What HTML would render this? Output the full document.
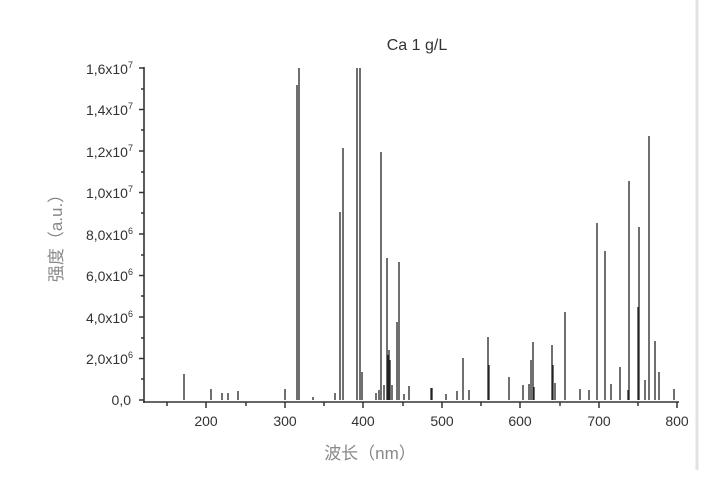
<!DOCTYPE html>
<html><head><meta charset="utf-8"><style>
html,body{margin:0;padding:0;background:#fff;width:728px;height:481px;overflow:hidden}
svg{display:block}
text{font-family:"Liberation Sans","Noto Sans CJK SC",sans-serif}
</style></head><body>
<svg width="728" height="481" viewBox="0 0 728 481">
<rect width="728" height="481" fill="#fff"/>
<line x1="697" y1="0" x2="697" y2="470" stroke="#e2e2e2" stroke-width="3"/>
<text x="417" y="50" font-size="16" fill="#333" text-anchor="middle">Ca 1 g/L</text>
<g stroke="#333" stroke-width="1.6" fill="none">
<line x1="144" y1="67" x2="144" y2="403"/>
<line x1="143" y1="402" x2="679" y2="402"/>
</g>
<g stroke="#333" stroke-width="1.5">
<line x1="139" y1="68" x2="144" y2="68"/><line x1="139" y1="109.5" x2="144" y2="109.5"/>
<line x1="139" y1="151" x2="144" y2="151"/><line x1="139" y1="192.5" x2="144" y2="192.5"/>
<line x1="139" y1="234" x2="144" y2="234"/><line x1="139" y1="275.5" x2="144" y2="275.5"/>
<line x1="139" y1="317" x2="144" y2="317"/><line x1="139" y1="358.5" x2="144" y2="358.5"/>
<line x1="139" y1="400" x2="144" y2="400"/>
<line x1="141" y1="89" x2="144" y2="89"/><line x1="141" y1="130" x2="144" y2="130"/>
<line x1="141" y1="172" x2="144" y2="172"/><line x1="141" y1="213" x2="144" y2="213"/>
<line x1="141" y1="255" x2="144" y2="255"/><line x1="141" y1="296" x2="144" y2="296"/>
<line x1="141" y1="338" x2="144" y2="338"/><line x1="141" y1="379" x2="144" y2="379"/>
<line x1="206" y1="402" x2="206" y2="408"/><line x1="285" y1="402" x2="285" y2="408"/>
<line x1="363" y1="402" x2="363" y2="408"/><line x1="442" y1="402" x2="442" y2="408"/>
<line x1="520" y1="402" x2="520" y2="408"/><line x1="599" y1="402" x2="599" y2="408"/>
<line x1="677" y1="402" x2="677" y2="408"/>
<line x1="167" y1="402" x2="167" y2="406"/><line x1="246" y1="402" x2="246" y2="406"/>
<line x1="324" y1="402" x2="324" y2="406"/><line x1="403" y1="402" x2="403" y2="406"/>
<line x1="481" y1="402" x2="481" y2="406"/><line x1="560" y1="402" x2="560" y2="406"/>
<line x1="638" y1="402" x2="638" y2="406"/>
</g>
<g font-size="14" fill="#333" text-anchor="end">
<text x="133" y="74">1,6x10<tspan font-size="9" dy="-6">7</tspan></text>
<text x="133" y="115">1,4x10<tspan font-size="9" dy="-6">7</tspan></text>
<text x="133" y="157">1,2x10<tspan font-size="9" dy="-6">7</tspan></text>
<text x="133" y="198">1,0x10<tspan font-size="9" dy="-6">7</tspan></text>
<text x="133" y="240">8,0x10<tspan font-size="9" dy="-6">6</tspan></text>
<text x="133" y="281">6,0x10<tspan font-size="9" dy="-6">6</tspan></text>
<text x="133" y="323">4,0x10<tspan font-size="9" dy="-6">6</tspan></text>
<text x="133" y="364">2,0x10<tspan font-size="9" dy="-6">6</tspan></text>
<text x="131" y="405">0,0</text>
</g>
<g font-size="14" fill="#333" text-anchor="middle">
<text x="206" y="426">200</text><text x="285" y="426">300</text><text x="363" y="426">400</text>
<text x="442" y="426">500</text><text x="520" y="426">600</text><text x="599" y="426">700</text>
<text x="677" y="426">800</text>
</g>
<text x="370" y="459" font-size="17" fill="#888" text-anchor="middle">波长（nm）</text>
<text transform="translate(62,234) rotate(-90)" font-size="17" fill="#888" text-anchor="middle">强度（a.u.）</text>
<g stroke="#222" stroke-width="1.3">
<line x1="184" y1="400" x2="184" y2="374"/><line x1="211" y1="400" x2="211" y2="389"/>
<line x1="222" y1="400" x2="222" y2="393"/><line x1="228" y1="400" x2="228" y2="393"/>
<line x1="238" y1="400" x2="238" y2="391"/><line x1="285" y1="400" x2="285" y2="389"/>
<line x1="297" y1="400" x2="297" y2="85"/><line x1="299" y1="400" x2="299" y2="68"/>
<line x1="313" y1="400" x2="313" y2="397"/><line x1="335" y1="400" x2="335" y2="393"/>
<line x1="340" y1="400" x2="340" y2="212"/><line x1="343" y1="400" x2="343" y2="148"/>
<line x1="357" y1="400" x2="357" y2="68"/><line x1="360" y1="400" x2="360" y2="68"/>
<line x1="362" y1="400" x2="362" y2="372"/>
<line x1="376" y1="400" x2="376" y2="393"/><line x1="379" y1="400" x2="379" y2="390"/>
<line x1="381" y1="400" x2="381" y2="152"/><line x1="384" y1="400" x2="384" y2="385"/>
<line x1="387" y1="400" x2="387" y2="258"/><line x1="388" y1="400" x2="388" y2="355"/>
<line x1="389" y1="400" x2="389" y2="350"/><line x1="390" y1="400" x2="390" y2="360"/>
<line x1="392" y1="400" x2="392" y2="385"/>
<line x1="397" y1="400" x2="397" y2="322"/><line x1="399" y1="400" x2="399" y2="262"/>
<line x1="404" y1="400" x2="404" y2="394"/><line x1="409" y1="400" x2="409" y2="386"/>
<line x1="431" y1="400" x2="431" y2="388"/><line x1="432" y1="400" x2="432" y2="388"/>
<line x1="446" y1="400" x2="446" y2="394"/><line x1="457" y1="400" x2="457" y2="391"/>
<line x1="463" y1="400" x2="463" y2="358"/><line x1="469" y1="400" x2="469" y2="390"/>
<line x1="488" y1="400" x2="488" y2="337"/><line x1="489" y1="400" x2="489" y2="365"/>
<line x1="509" y1="400" x2="509" y2="377"/><line x1="523" y1="400" x2="523" y2="385"/>
<line x1="529" y1="400" x2="529" y2="384"/><line x1="531" y1="400" x2="531" y2="360"/>
<line x1="533" y1="400" x2="533" y2="342"/><line x1="534" y1="400" x2="534" y2="387"/>
<line x1="552" y1="400" x2="552" y2="345"/><line x1="553" y1="400" x2="553" y2="365"/>
<line x1="555" y1="400" x2="555" y2="383"/>
<line x1="565" y1="400" x2="565" y2="312"/><line x1="580" y1="400" x2="580" y2="389"/>
<line x1="589" y1="400" x2="589" y2="390"/><line x1="597" y1="400" x2="597" y2="223"/>
<line x1="605" y1="400" x2="605" y2="251"/><line x1="611" y1="400" x2="611" y2="384"/>
<line x1="620" y1="400" x2="620" y2="367"/><line x1="629" y1="400" x2="629" y2="181"/>
<line x1="628" y1="400" x2="628" y2="390"/>
<line x1="639" y1="400" x2="639" y2="227"/><line x1="638" y1="400" x2="638" y2="307"/>
<line x1="645" y1="400" x2="645" y2="380"/>
<line x1="649" y1="400" x2="649" y2="136"/><line x1="655" y1="400" x2="655" y2="341"/>
<line x1="659" y1="400" x2="659" y2="372"/><line x1="674" y1="400" x2="674" y2="389"/>
</g>
</svg>
</body></html>
